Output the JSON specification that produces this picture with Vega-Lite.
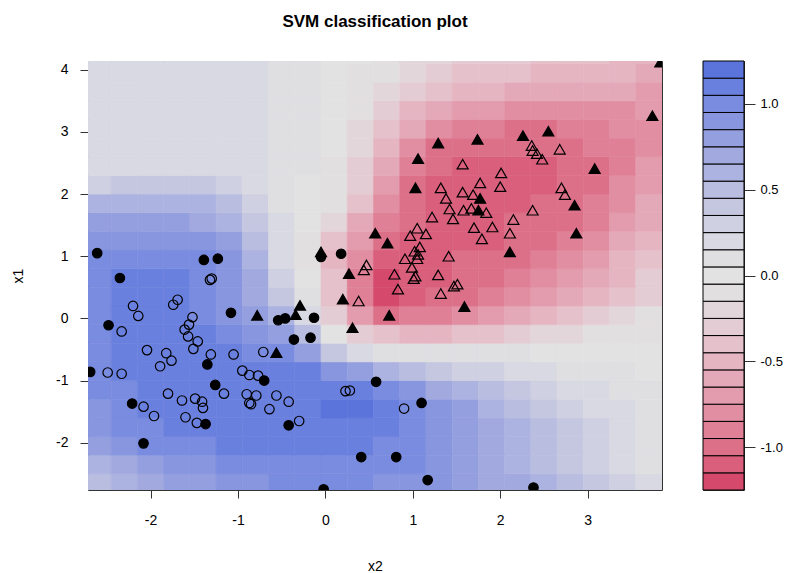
{
"$schema": "https://vega.github.io/schema/vega-lite/v6.json",
"background": "white",
"padding": {"left": 11, "top": 12, "right": 2, "bottom": 1},
"bounds": "flush",
"spacing": 41,
"config": {
 "font": "Liberation Sans Narrow, Liberation Sans, Arial, sans-serif",
 "view": {"stroke": "#333", "strokeWidth": 1},
 "axis": {"labelColor": "black", "titleColor": "black", "tickColor": "#333", "labelFontSize": 14, "titleFontSize": 14, "titleFontWeight": "normal", "grid": false, "domain": false}
},
"datasets": {
"grid": [
{"x2":-2.6,"x1":-2.65,"z":0.45},{"x2":-2.3,"x1":-2.65,"z":0.55},{"x2":-2,"x1":-2.65,"z":0.65},{"x2":-1.7,"x1":-2.65,"z":0.75},{"x2":-1.4,"x1":-2.65,"z":0.82},{"x2":-1.1,"x1":-2.65,"z":0.88},{"x2":-0.8,"x1":-2.65,"z":0.92},{"x2":-0.5,"x1":-2.65,"z":0.95},{"x2":-0.2,"x1":-2.65,"z":0.97},{"x2":0.1,"x1":-2.65,"z":0.97},{"x2":0.4,"x1":-2.65,"z":0.96},{"x2":0.7,"x1":-2.65,"z":0.94},{"x2":1,"x1":-2.65,"z":0.92},{"x2":1.3,"x1":-2.65,"z":0.88},{"x2":1.6,"x1":-2.65,"z":0.82},{"x2":1.9,"x1":-2.65,"z":0.74},{"x2":2.2,"x1":-2.65,"z":0.65},{"x2":2.5,"x1":-2.65,"z":0.55},{"x2":2.8,"x1":-2.65,"z":0.45},{"x2":3.1,"x1":-2.65,"z":0.35},{"x2":3.4,"x1":-2.65,"z":0.25},{"x2":3.7,"x1":-2.65,"z":0.15},
{"x2":-2.6,"x1":-2.35,"z":0.6},{"x2":-2.3,"x1":-2.35,"z":0.72},{"x2":-2,"x1":-2.35,"z":0.8},{"x2":-1.7,"x1":-2.35,"z":0.87},{"x2":-1.4,"x1":-2.35,"z":0.92},{"x2":-1.1,"x1":-2.35,"z":0.96},{"x2":-0.8,"x1":-2.35,"z":0.99},{"x2":-0.5,"x1":-2.35,"z":1.01},{"x2":-0.2,"x1":-2.35,"z":1.03},{"x2":0.1,"x1":-2.35,"z":1.03},{"x2":0.4,"x1":-2.35,"z":1.02},{"x2":0.7,"x1":-2.35,"z":1.0},{"x2":1,"x1":-2.35,"z":0.97},{"x2":1.3,"x1":-2.35,"z":0.92},{"x2":1.6,"x1":-2.35,"z":0.84},{"x2":1.9,"x1":-2.35,"z":0.74},{"x2":2.2,"x1":-2.35,"z":0.64},{"x2":2.5,"x1":-2.35,"z":0.53},{"x2":2.8,"x1":-2.35,"z":0.42},{"x2":3.1,"x1":-2.35,"z":0.32},{"x2":3.4,"x1":-2.35,"z":0.23},{"x2":3.7,"x1":-2.35,"z":0.14},
{"x2":-2.6,"x1":-2.05,"z":0.75},{"x2":-2.3,"x1":-2.05,"z":0.88},{"x2":-2,"x1":-2.05,"z":0.98},{"x2":-1.7,"x1":-2.05,"z":1.02},{"x2":-1.4,"x1":-2.05,"z":1.04},{"x2":-1.1,"x1":-2.05,"z":1.05},{"x2":-0.8,"x1":-2.05,"z":1.06},{"x2":-0.5,"x1":-2.05,"z":1.07},{"x2":-0.2,"x1":-2.05,"z":1.08},{"x2":0.1,"x1":-2.05,"z":1.08},{"x2":0.4,"x1":-2.05,"z":1.07},{"x2":0.7,"x1":-2.05,"z":1.04},{"x2":1,"x1":-2.05,"z":1.0},{"x2":1.3,"x1":-2.05,"z":0.93},{"x2":1.6,"x1":-2.05,"z":0.83},{"x2":1.9,"x1":-2.05,"z":0.72},{"x2":2.2,"x1":-2.05,"z":0.61},{"x2":2.5,"x1":-2.05,"z":0.5},{"x2":2.8,"x1":-2.05,"z":0.4},{"x2":3.1,"x1":-2.05,"z":0.3},{"x2":3.4,"x1":-2.05,"z":0.21},{"x2":3.7,"x1":-2.05,"z":0.13},
{"x2":-2.6,"x1":-1.75,"z":0.85},{"x2":-2.3,"x1":-1.75,"z":0.95},{"x2":-2,"x1":-1.75,"z":1.03},{"x2":-1.7,"x1":-1.75,"z":1.07},{"x2":-1.4,"x1":-1.75,"z":1.08},{"x2":-1.1,"x1":-1.75,"z":1.08},{"x2":-0.8,"x1":-1.75,"z":1.08},{"x2":-0.5,"x1":-1.75,"z":1.09},{"x2":-0.2,"x1":-1.75,"z":1.1},{"x2":0.1,"x1":-1.75,"z":1.12},{"x2":0.4,"x1":-1.75,"z":1.12},{"x2":0.7,"x1":-1.75,"z":1.08},{"x2":1,"x1":-1.75,"z":1.02},{"x2":1.3,"x1":-1.75,"z":0.92},{"x2":1.6,"x1":-1.75,"z":0.8},{"x2":1.9,"x1":-1.75,"z":0.68},{"x2":2.2,"x1":-1.75,"z":0.57},{"x2":2.5,"x1":-1.75,"z":0.46},{"x2":2.8,"x1":-1.75,"z":0.36},{"x2":3.1,"x1":-1.75,"z":0.27},{"x2":3.4,"x1":-1.75,"z":0.19},{"x2":3.7,"x1":-1.75,"z":0.12},
{"x2":-2.6,"x1":-1.45,"z":0.92},{"x2":-2.3,"x1":-1.45,"z":1.0},{"x2":-2,"x1":-1.45,"z":1.06},{"x2":-1.7,"x1":-1.45,"z":1.1},{"x2":-1.4,"x1":-1.45,"z":1.1},{"x2":-1.1,"x1":-1.45,"z":1.08},{"x2":-0.8,"x1":-1.45,"z":1.08},{"x2":-0.5,"x1":-1.45,"z":1.1},{"x2":-0.2,"x1":-1.45,"z":1.12},{"x2":0.1,"x1":-1.45,"z":1.15},{"x2":0.4,"x1":-1.45,"z":1.15},{"x2":0.7,"x1":-1.45,"z":1.08},{"x2":1,"x1":-1.45,"z":1.0},{"x2":1.3,"x1":-1.45,"z":0.88},{"x2":1.6,"x1":-1.45,"z":0.75},{"x2":1.9,"x1":-1.45,"z":0.63},{"x2":2.2,"x1":-1.45,"z":0.52},{"x2":2.5,"x1":-1.45,"z":0.42},{"x2":2.8,"x1":-1.45,"z":0.32},{"x2":3.1,"x1":-1.45,"z":0.24},{"x2":3.4,"x1":-1.45,"z":0.17},{"x2":3.7,"x1":-1.45,"z":0.11},
{"x2":-2.6,"x1":-1.15,"z":0.96},{"x2":-2.3,"x1":-1.15,"z":1.03},{"x2":-2,"x1":-1.15,"z":1.08},{"x2":-1.7,"x1":-1.15,"z":1.1},{"x2":-1.4,"x1":-1.15,"z":1.1},{"x2":-1.1,"x1":-1.15,"z":1.08},{"x2":-0.8,"x1":-1.15,"z":1.08},{"x2":-0.5,"x1":-1.15,"z":1.1},{"x2":-0.2,"x1":-1.15,"z":1.12},{"x2":0.1,"x1":-1.15,"z":1.12},{"x2":0.4,"x1":-1.15,"z":1.05},{"x2":0.7,"x1":-1.15,"z":0.95},{"x2":1,"x1":-1.15,"z":0.85},{"x2":1.3,"x1":-1.15,"z":0.72},{"x2":1.6,"x1":-1.15,"z":0.6},{"x2":1.9,"x1":-1.15,"z":0.48},{"x2":2.2,"x1":-1.15,"z":0.38},{"x2":2.5,"x1":-1.15,"z":0.3},{"x2":2.8,"x1":-1.15,"z":0.23},{"x2":3.1,"x1":-1.15,"z":0.17},{"x2":3.4,"x1":-1.15,"z":0.12},{"x2":3.7,"x1":-1.15,"z":0.08},
{"x2":-2.6,"x1":-0.85,"z":0.99},{"x2":-2.3,"x1":-0.85,"z":1.06},{"x2":-2,"x1":-0.85,"z":1.1},{"x2":-1.7,"x1":-0.85,"z":1.1},{"x2":-1.4,"x1":-0.85,"z":1.08},{"x2":-1.1,"x1":-0.85,"z":1.05},{"x2":-0.8,"x1":-0.85,"z":1.05},{"x2":-0.5,"x1":-0.85,"z":1.06},{"x2":-0.2,"x1":-0.85,"z":1.05},{"x2":0.1,"x1":-0.85,"z":0.9},{"x2":0.4,"x1":-0.85,"z":0.75},{"x2":0.7,"x1":-0.85,"z":0.62},{"x2":1,"x1":-0.85,"z":0.5},{"x2":1.3,"x1":-0.85,"z":0.4},{"x2":1.6,"x1":-0.85,"z":0.32},{"x2":1.9,"x1":-0.85,"z":0.25},{"x2":2.2,"x1":-0.85,"z":0.2},{"x2":2.5,"x1":-0.85,"z":0.16},{"x2":2.8,"x1":-0.85,"z":0.12},{"x2":3.1,"x1":-0.85,"z":0.09},{"x2":3.4,"x1":-0.85,"z":0.06},{"x2":3.7,"x1":-0.85,"z":0.04},
{"x2":-2.6,"x1":-0.55,"z":1.0},{"x2":-2.3,"x1":-0.55,"z":1.08},{"x2":-2,"x1":-0.55,"z":1.1},{"x2":-1.7,"x1":-0.55,"z":1.1},{"x2":-1.4,"x1":-0.55,"z":1.08},{"x2":-1.1,"x1":-0.55,"z":1.05},{"x2":-0.8,"x1":-0.55,"z":1.03},{"x2":-0.5,"x1":-0.55,"z":0.95},{"x2":-0.2,"x1":-0.55,"z":0.75},{"x2":0.1,"x1":-0.55,"z":0.35},{"x2":0.4,"x1":-0.55,"z":0.2},{"x2":0.7,"x1":-0.55,"z":0.12},{"x2":1,"x1":-0.55,"z":0.1},{"x2":1.3,"x1":-0.55,"z":0.08},{"x2":1.6,"x1":-0.55,"z":0.07},{"x2":1.9,"x1":-0.55,"z":0.06},{"x2":2.2,"x1":-0.55,"z":0.05},{"x2":2.5,"x1":-0.55,"z":0.04},{"x2":2.8,"x1":-0.55,"z":0.03},{"x2":3.1,"x1":-0.55,"z":0.02},{"x2":3.4,"x1":-0.55,"z":0.02},{"x2":3.7,"x1":-0.55,"z":0.02},
{"x2":-2.6,"x1":-0.25,"z":1.0},{"x2":-2.3,"x1":-0.25,"z":1.08},{"x2":-2,"x1":-0.25,"z":1.1},{"x2":-1.7,"x1":-0.25,"z":1.1},{"x2":-1.4,"x1":-0.25,"z":1.08},{"x2":-1.1,"x1":-0.25,"z":1.02},{"x2":-0.8,"x1":-0.25,"z":0.92},{"x2":-0.5,"x1":-0.25,"z":0.75},{"x2":-0.2,"x1":-0.25,"z":0.45},{"x2":0.1,"x1":-0.25,"z":0.0},{"x2":0.4,"x1":-0.25,"z":-0.3},{"x2":0.7,"x1":-0.25,"z":-0.45},{"x2":1,"x1":-0.25,"z":-0.5},{"x2":1.3,"x1":-0.25,"z":-0.48},{"x2":1.6,"x1":-0.25,"z":-0.42},{"x2":1.9,"x1":-0.25,"z":-0.36},{"x2":2.2,"x1":-0.25,"z":-0.3},{"x2":2.5,"x1":-0.25,"z":-0.24},{"x2":2.8,"x1":-0.25,"z":-0.19},{"x2":3.1,"x1":-0.25,"z":-0.14},{"x2":3.4,"x1":-0.25,"z":-0.1},{"x2":3.7,"x1":-0.25,"z":-0.06},
{"x2":-2.6,"x1":0.05,"z":1.0},{"x2":-2.3,"x1":0.05,"z":1.08},{"x2":-2,"x1":0.05,"z":1.1},{"x2":-1.7,"x1":0.05,"z":1.08},{"x2":-1.4,"x1":0.05,"z":1.02},{"x2":-1.1,"x1":0.05,"z":0.92},{"x2":-0.8,"x1":0.05,"z":0.78},{"x2":-0.5,"x1":0.05,"z":0.55},{"x2":-0.2,"x1":0.05,"z":0.2},{"x2":0.1,"x1":0.05,"z":-0.3},{"x2":0.4,"x1":0.05,"z":-0.75},{"x2":0.7,"x1":0.05,"z":-1.0},{"x2":1,"x1":0.05,"z":-0.95},{"x2":1.3,"x1":0.05,"z":-0.9},{"x2":1.6,"x1":0.05,"z":-0.82},{"x2":1.9,"x1":0.05,"z":-0.7},{"x2":2.2,"x1":0.05,"z":-0.58},{"x2":2.5,"x1":0.05,"z":-0.47},{"x2":2.8,"x1":0.05,"z":-0.37},{"x2":3.1,"x1":0.05,"z":-0.28},{"x2":3.4,"x1":0.05,"z":-0.2},{"x2":3.7,"x1":0.05,"z":-0.12},
{"x2":-2.6,"x1":0.35,"z":1.0},{"x2":-2.3,"x1":0.35,"z":1.08},{"x2":-2,"x1":0.35,"z":1.08},{"x2":-1.7,"x1":0.35,"z":1.05},{"x2":-1.4,"x1":0.35,"z":1.0},{"x2":-1.1,"x1":0.35,"z":0.88},{"x2":-0.8,"x1":0.35,"z":0.7},{"x2":-0.5,"x1":0.35,"z":0.42},{"x2":-0.2,"x1":0.35,"z":0.08},{"x2":0.1,"x1":0.35,"z":-0.4},{"x2":0.4,"x1":0.35,"z":-0.95},{"x2":0.7,"x1":0.35,"z":-1.18},{"x2":1,"x1":0.35,"z":-1.15},{"x2":1.3,"x1":0.35,"z":-1.05},{"x2":1.6,"x1":0.35,"z":-1.0},{"x2":1.9,"x1":0.35,"z":-0.92},{"x2":2.2,"x1":0.35,"z":-0.82},{"x2":2.5,"x1":0.35,"z":-0.7},{"x2":2.8,"x1":0.35,"z":-0.58},{"x2":3.1,"x1":0.35,"z":-0.46},{"x2":3.4,"x1":0.35,"z":-0.36},{"x2":3.7,"x1":0.35,"z":-0.26},
{"x2":-2.6,"x1":0.65,"z":1.0},{"x2":-2.3,"x1":0.65,"z":1.05},{"x2":-2,"x1":0.65,"z":1.05},{"x2":-1.7,"x1":0.65,"z":1.05},{"x2":-1.4,"x1":0.65,"z":1.0},{"x2":-1.1,"x1":0.65,"z":0.88},{"x2":-0.8,"x1":0.65,"z":0.65},{"x2":-0.5,"x1":0.65,"z":0.32},{"x2":-0.2,"x1":0.65,"z":-0.02},{"x2":0.1,"x1":0.65,"z":-0.45},{"x2":0.4,"x1":0.65,"z":-0.9},{"x2":0.7,"x1":0.65,"z":-1.18},{"x2":1,"x1":0.65,"z":-1.15},{"x2":1.3,"x1":0.65,"z":-1.08},{"x2":1.6,"x1":0.65,"z":-1.05},{"x2":1.9,"x1":0.65,"z":-1.0},{"x2":2.2,"x1":0.65,"z":-0.95},{"x2":2.5,"x1":0.65,"z":-0.85},{"x2":2.8,"x1":0.65,"z":-0.73},{"x2":3.1,"x1":0.65,"z":-0.6},{"x2":3.4,"x1":0.65,"z":-0.47},{"x2":3.7,"x1":0.65,"z":-0.35},
{"x2":-2.6,"x1":0.95,"z":0.95},{"x2":-2.3,"x1":0.95,"z":1.0},{"x2":-2,"x1":0.95,"z":1.02},{"x2":-1.7,"x1":0.95,"z":1.02},{"x2":-1.4,"x1":0.95,"z":0.98},{"x2":-1.1,"x1":0.95,"z":0.88},{"x2":-0.8,"x1":0.95,"z":0.6},{"x2":-0.5,"x1":0.95,"z":0.2},{"x2":-0.2,"x1":0.95,"z":-0.15},{"x2":0.1,"x1":0.95,"z":-0.5},{"x2":0.4,"x1":0.95,"z":-0.85},{"x2":0.7,"x1":0.95,"z":-1.1},{"x2":1,"x1":0.95,"z":-1.12},{"x2":1.3,"x1":0.95,"z":-1.08},{"x2":1.6,"x1":0.95,"z":-1.05},{"x2":1.9,"x1":0.95,"z":-1.05},{"x2":2.2,"x1":0.95,"z":-1.0},{"x2":2.5,"x1":0.95,"z":-0.92},{"x2":2.8,"x1":0.95,"z":-0.82},{"x2":3.1,"x1":0.95,"z":-0.68},{"x2":3.4,"x1":0.95,"z":-0.54},{"x2":3.7,"x1":0.95,"z":-0.42},
{"x2":-2.6,"x1":1.25,"z":0.85},{"x2":-2.3,"x1":1.25,"z":0.9},{"x2":-2,"x1":1.25,"z":0.92},{"x2":-1.7,"x1":1.25,"z":0.92},{"x2":-1.4,"x1":1.25,"z":0.88},{"x2":-1.1,"x1":1.25,"z":0.75},{"x2":-0.8,"x1":1.25,"z":0.5},{"x2":-0.5,"x1":1.25,"z":0.2},{"x2":-0.2,"x1":1.25,"z":-0.08},{"x2":0.1,"x1":1.25,"z":-0.4},{"x2":0.4,"x1":1.25,"z":-0.75},{"x2":0.7,"x1":1.25,"z":-1.02},{"x2":1,"x1":1.25,"z":-1.08},{"x2":1.3,"x1":1.25,"z":-1.08},{"x2":1.6,"x1":1.25,"z":-1.06},{"x2":1.9,"x1":1.25,"z":-1.06},{"x2":2.2,"x1":1.25,"z":-1.03},{"x2":2.5,"x1":1.25,"z":-0.98},{"x2":2.8,"x1":1.25,"z":-0.9},{"x2":3.1,"x1":1.25,"z":-0.77},{"x2":3.4,"x1":1.25,"z":-0.62},{"x2":3.7,"x1":1.25,"z":-0.5},
{"x2":-2.6,"x1":1.55,"z":0.75},{"x2":-2.3,"x1":1.55,"z":0.78},{"x2":-2,"x1":1.55,"z":0.8},{"x2":-1.7,"x1":1.55,"z":0.78},{"x2":-1.4,"x1":1.55,"z":0.72},{"x2":-1.1,"x1":1.55,"z":0.6},{"x2":-0.8,"x1":1.55,"z":0.4},{"x2":-0.5,"x1":1.55,"z":0.15},{"x2":-0.2,"x1":1.55,"z":-0.02},{"x2":0.1,"x1":1.55,"z":-0.25},{"x2":0.4,"x1":1.55,"z":-0.6},{"x2":0.7,"x1":1.55,"z":-0.9},{"x2":1,"x1":1.55,"z":-1.05},{"x2":1.3,"x1":1.55,"z":-1.07},{"x2":1.6,"x1":1.55,"z":-1.07},{"x2":1.9,"x1":1.55,"z":-1.06},{"x2":2.2,"x1":1.55,"z":-1.05},{"x2":2.5,"x1":1.55,"z":-1.03},{"x2":2.8,"x1":1.55,"z":-1.0},{"x2":3.1,"x1":1.55,"z":-0.88},{"x2":3.4,"x1":1.55,"z":-0.72},{"x2":3.7,"x1":1.55,"z":-0.6},
{"x2":-2.6,"x1":1.85,"z":0.55},{"x2":-2.3,"x1":1.85,"z":0.6},{"x2":-2,"x1":1.85,"z":0.62},{"x2":-1.7,"x1":1.85,"z":0.6},{"x2":-1.4,"x1":1.85,"z":0.55},{"x2":-1.1,"x1":1.85,"z":0.45},{"x2":-0.8,"x1":1.85,"z":0.3},{"x2":-0.5,"x1":1.85,"z":0.12},{"x2":-0.2,"x1":1.85,"z":0.0},{"x2":0.1,"x1":1.85,"z":-0.15},{"x2":0.4,"x1":1.85,"z":-0.45},{"x2":0.7,"x1":1.85,"z":-0.8},{"x2":1,"x1":1.85,"z":-1.02},{"x2":1.3,"x1":1.85,"z":-1.06},{"x2":1.6,"x1":1.85,"z":-1.08},{"x2":1.9,"x1":1.85,"z":-1.07},{"x2":2.2,"x1":1.85,"z":-1.06},{"x2":2.5,"x1":1.85,"z":-1.05},{"x2":2.8,"x1":1.85,"z":-1.02},{"x2":3.1,"x1":1.85,"z":-0.95},{"x2":3.4,"x1":1.85,"z":-0.78},{"x2":3.7,"x1":1.85,"z":-0.64},
{"x2":-2.6,"x1":2.15,"z":0.33},{"x2":-2.3,"x1":2.15,"z":0.38},{"x2":-2,"x1":2.15,"z":0.4},{"x2":-1.7,"x1":2.15,"z":0.38},{"x2":-1.4,"x1":2.15,"z":0.35},{"x2":-1.1,"x1":2.15,"z":0.3},{"x2":-0.8,"x1":2.15,"z":0.22},{"x2":-0.5,"x1":2.15,"z":0.12},{"x2":-0.2,"x1":2.15,"z":0.04},{"x2":0.1,"x1":2.15,"z":-0.1},{"x2":0.4,"x1":2.15,"z":-0.35},{"x2":0.7,"x1":2.15,"z":-0.7},{"x2":1,"x1":2.15,"z":-1.0},{"x2":1.3,"x1":2.15,"z":-1.06},{"x2":1.6,"x1":2.15,"z":-1.08},{"x2":1.9,"x1":2.15,"z":-1.08},{"x2":2.2,"x1":2.15,"z":-1.07},{"x2":2.5,"x1":2.15,"z":-1.06},{"x2":2.8,"x1":2.15,"z":-1.05},{"x2":3.1,"x1":2.15,"z":-0.98},{"x2":3.4,"x1":2.15,"z":-0.82},{"x2":3.7,"x1":2.15,"z":-0.7},
{"x2":-2.6,"x1":2.45,"z":0.2},{"x2":-2.3,"x1":2.45,"z":0.2},{"x2":-2,"x1":2.45,"z":0.22},{"x2":-1.7,"x1":2.45,"z":0.2},{"x2":-1.4,"x1":2.45,"z":0.2},{"x2":-1.1,"x1":2.45,"z":0.19},{"x2":-0.8,"x1":2.45,"z":0.17},{"x2":-0.5,"x1":2.45,"z":0.13},{"x2":-0.2,"x1":2.45,"z":0.06},{"x2":0.1,"x1":2.45,"z":-0.07},{"x2":0.4,"x1":2.45,"z":-0.28},{"x2":0.7,"x1":2.45,"z":-0.6},{"x2":1,"x1":2.45,"z":-0.92},{"x2":1.3,"x1":2.45,"z":-1.04},{"x2":1.6,"x1":2.45,"z":-1.06},{"x2":1.9,"x1":2.45,"z":-1.07},{"x2":2.2,"x1":2.45,"z":-1.07},{"x2":2.5,"x1":2.45,"z":-1.06},{"x2":2.8,"x1":2.45,"z":-1.05},{"x2":3.1,"x1":2.45,"z":-1.0},{"x2":3.4,"x1":2.45,"z":-0.86},{"x2":3.7,"x1":2.45,"z":-0.74},
{"x2":-2.6,"x1":2.75,"z":0.18},{"x2":-2.3,"x1":2.75,"z":0.18},{"x2":-2,"x1":2.75,"z":0.18},{"x2":-1.7,"x1":2.75,"z":0.18},{"x2":-1.4,"x1":2.75,"z":0.18},{"x2":-1.1,"x1":2.75,"z":0.18},{"x2":-0.8,"x1":2.75,"z":0.17},{"x2":-0.5,"x1":2.75,"z":0.14},{"x2":-0.2,"x1":2.75,"z":0.08},{"x2":0.1,"x1":2.75,"z":-0.04},{"x2":0.4,"x1":2.75,"z":-0.22},{"x2":0.7,"x1":2.75,"z":-0.5},{"x2":1,"x1":2.75,"z":-0.8},{"x2":1.3,"x1":2.75,"z":-1.0},{"x2":1.6,"x1":2.75,"z":-1.04},{"x2":1.9,"x1":2.75,"z":-1.05},{"x2":2.2,"x1":2.75,"z":-1.05},{"x2":2.5,"x1":2.75,"z":-1.04},{"x2":2.8,"x1":2.75,"z":-1.02},{"x2":3.1,"x1":2.75,"z":-0.95},{"x2":3.4,"x1":2.75,"z":-0.86},{"x2":3.7,"x1":2.75,"z":-0.78},
{"x2":-2.6,"x1":3.05,"z":0.18},{"x2":-2.3,"x1":3.05,"z":0.18},{"x2":-2,"x1":3.05,"z":0.18},{"x2":-1.7,"x1":3.05,"z":0.18},{"x2":-1.4,"x1":3.05,"z":0.18},{"x2":-1.1,"x1":3.05,"z":0.18},{"x2":-0.8,"x1":3.05,"z":0.17},{"x2":-0.5,"x1":3.05,"z":0.14},{"x2":-0.2,"x1":3.05,"z":0.08},{"x2":0.1,"x1":3.05,"z":-0.03},{"x2":0.4,"x1":3.05,"z":-0.18},{"x2":0.7,"x1":3.05,"z":-0.4},{"x2":1,"x1":3.05,"z":-0.62},{"x2":1.3,"x1":3.05,"z":-0.8},{"x2":1.6,"x1":3.05,"z":-0.9},{"x2":1.9,"x1":3.05,"z":-0.93},{"x2":2.2,"x1":3.05,"z":-0.96},{"x2":2.5,"x1":3.05,"z":-0.98},{"x2":2.8,"x1":3.05,"z":-0.95},{"x2":3.1,"x1":3.05,"z":-0.9},{"x2":3.4,"x1":3.05,"z":-0.84},{"x2":3.7,"x1":3.05,"z":-0.8},
{"x2":-2.6,"x1":3.35,"z":0.18},{"x2":-2.3,"x1":3.35,"z":0.18},{"x2":-2,"x1":3.35,"z":0.18},{"x2":-1.7,"x1":3.35,"z":0.18},{"x2":-1.4,"x1":3.35,"z":0.18},{"x2":-1.1,"x1":3.35,"z":0.18},{"x2":-0.8,"x1":3.35,"z":0.17},{"x2":-0.5,"x1":3.35,"z":0.14},{"x2":-0.2,"x1":3.35,"z":0.08},{"x2":0.1,"x1":3.35,"z":-0.02},{"x2":0.4,"x1":3.35,"z":-0.14},{"x2":0.7,"x1":3.35,"z":-0.3},{"x2":1,"x1":3.35,"z":-0.46},{"x2":1.3,"x1":3.35,"z":-0.6},{"x2":1.6,"x1":3.35,"z":-0.68},{"x2":1.9,"x1":3.35,"z":-0.73},{"x2":2.2,"x1":3.35,"z":-0.76},{"x2":2.5,"x1":3.35,"z":-0.78},{"x2":2.8,"x1":3.35,"z":-0.79},{"x2":3.1,"x1":3.35,"z":-0.78},{"x2":3.4,"x1":3.35,"z":-0.76},{"x2":3.7,"x1":3.35,"z":-0.75},
{"x2":-2.6,"x1":3.65,"z":0.18},{"x2":-2.3,"x1":3.65,"z":0.18},{"x2":-2,"x1":3.65,"z":0.18},{"x2":-1.7,"x1":3.65,"z":0.18},{"x2":-1.4,"x1":3.65,"z":0.18},{"x2":-1.1,"x1":3.65,"z":0.18},{"x2":-0.8,"x1":3.65,"z":0.17},{"x2":-0.5,"x1":3.65,"z":0.14},{"x2":-0.2,"x1":3.65,"z":0.08},{"x2":0.1,"x1":3.65,"z":-0.01},{"x2":0.4,"x1":3.65,"z":-0.1},{"x2":0.7,"x1":3.65,"z":-0.22},{"x2":1,"x1":3.65,"z":-0.34},{"x2":1.3,"x1":3.65,"z":-0.44},{"x2":1.6,"x1":3.65,"z":-0.5},{"x2":1.9,"x1":3.65,"z":-0.55},{"x2":2.2,"x1":3.65,"z":-0.58},{"x2":2.5,"x1":3.65,"z":-0.6},{"x2":2.8,"x1":3.65,"z":-0.62},{"x2":3.1,"x1":3.65,"z":-0.64},{"x2":3.4,"x1":3.65,"z":-0.65},{"x2":3.7,"x1":3.65,"z":-0.66},
{"x2":-2.6,"x1":3.95,"z":0.18},{"x2":-2.3,"x1":3.95,"z":0.18},{"x2":-2,"x1":3.95,"z":0.18},{"x2":-1.7,"x1":3.95,"z":0.18},{"x2":-1.4,"x1":3.95,"z":0.18},{"x2":-1.1,"x1":3.95,"z":0.18},{"x2":-0.8,"x1":3.95,"z":0.17},{"x2":-0.5,"x1":3.95,"z":0.14},{"x2":-0.2,"x1":3.95,"z":0.08},{"x2":0.1,"x1":3.95,"z":0.0},{"x2":0.4,"x1":3.95,"z":-0.07},{"x2":0.7,"x1":3.95,"z":-0.15},{"x2":1,"x1":3.95,"z":-0.24},{"x2":1.3,"x1":3.95,"z":-0.31},{"x2":1.6,"x1":3.95,"z":-0.36},{"x2":1.9,"x1":3.95,"z":-0.4},{"x2":2.2,"x1":3.95,"z":-0.43},{"x2":2.5,"x1":3.95,"z":-0.46},{"x2":2.8,"x1":3.95,"z":-0.49},{"x2":3.1,"x1":3.95,"z":-0.52},{"x2":3.4,"x1":3.95,"z":-0.55},{"x2":3.7,"x1":3.95,"z":-0.58},
{"x2":-2.6,"x1":4.25,"z":0.18},{"x2":-2.3,"x1":4.25,"z":0.18},{"x2":-2,"x1":4.25,"z":0.18},{"x2":-1.7,"x1":4.25,"z":0.18},{"x2":-1.4,"x1":4.25,"z":0.18},{"x2":-1.1,"x1":4.25,"z":0.18},{"x2":-0.8,"x1":4.25,"z":0.17},{"x2":-0.5,"x1":4.25,"z":0.14},{"x2":-0.2,"x1":4.25,"z":0.08},{"x2":0.1,"x1":4.25,"z":0.01},{"x2":0.4,"x1":4.25,"z":-0.05},{"x2":0.7,"x1":4.25,"z":-0.1},{"x2":1,"x1":4.25,"z":-0.17},{"x2":1.3,"x1":4.25,"z":-0.23},{"x2":1.6,"x1":4.25,"z":-0.28},{"x2":1.9,"x1":4.25,"z":-0.32},{"x2":2.2,"x1":4.25,"z":-0.35},{"x2":2.5,"x1":4.25,"z":-0.38},{"x2":2.8,"x1":4.25,"z":-0.42},{"x2":3.1,"x1":4.25,"z":-0.45},{"x2":3.4,"x1":4.25,"z":-0.5},{"x2":3.7,"x1":4.25,"z":-0.55}
],
"pts": [
{"x2":-1.32,"x1":0.62,"class":"1","sv":"no"},{"x2":-1.30,"x1":0.64,"class":"1","sv":"no"},{"x2":-2.20,"x1":0.20,"class":"1","sv":"no"},{"x2":-2.14,"x1":0.04,"class":"1","sv":"no"},{"x2":-1.74,"x1":0.22,"class":"1","sv":"no"},{"x2":-1.69,"x1":0.30,"class":"1","sv":"no"},{"x2":-2.33,"x1":-0.21,"class":"1","sv":"no"},{"x2":-1.52,"x1":0.02,"class":"1","sv":"no"},{"x2":-1.56,"x1":-0.10,"class":"1","sv":"no"},{"x2":-1.61,"x1":-0.18,"class":"1","sv":"no"},{"x2":-1.57,"x1":-0.29,"class":"1","sv":"no"},{"x2":-1.46,"x1":-0.37,"class":"1","sv":"no"},{"x2":-1.51,"x1":-0.49,"class":"1","sv":"no"},{"x2":-2.04,"x1":-0.51,"class":"1","sv":"no"},{"x2":-1.82,"x1":-0.56,"class":"1","sv":"no"},{"x2":-1.76,"x1":-0.68,"class":"1","sv":"no"},{"x2":-1.89,"x1":-0.77,"class":"1","sv":"no"},{"x2":-1.31,"x1":-0.58,"class":"1","sv":"no"},{"x2":-1.05,"x1":-0.58,"class":"1","sv":"no"},{"x2":-0.71,"x1":-0.54,"class":"1","sv":"no"},{"x2":-2.49,"x1":-0.87,"class":"1","sv":"no"},{"x2":-2.33,"x1":-0.89,"class":"1","sv":"no"},{"x2":-0.95,"x1":-0.84,"class":"1","sv":"no"},{"x2":-0.87,"x1":-0.91,"class":"1","sv":"no"},{"x2":-0.77,"x1":-0.92,"class":"1","sv":"no"},{"x2":-1.80,"x1":-1.21,"class":"1","sv":"no"},{"x2":-1.64,"x1":-1.32,"class":"1","sv":"no"},{"x2":-1.49,"x1":-1.29,"class":"1","sv":"no"},{"x2":-1.41,"x1":-1.34,"class":"1","sv":"no"},{"x2":-1.40,"x1":-1.44,"class":"1","sv":"no"},{"x2":-1.16,"x1":-1.21,"class":"1","sv":"no"},{"x2":-0.90,"x1":-1.22,"class":"1","sv":"no"},{"x2":-0.79,"x1":-1.24,"class":"1","sv":"no"},{"x2":-0.87,"x1":-1.36,"class":"1","sv":"no"},{"x2":-0.85,"x1":-1.38,"class":"1","sv":"no"},{"x2":-0.56,"x1":-1.24,"class":"1","sv":"no"},{"x2":-0.42,"x1":-1.34,"class":"1","sv":"no"},{"x2":-0.64,"x1":-1.46,"class":"1","sv":"no"},{"x2":-2.08,"x1":-1.42,"class":"1","sv":"no"},{"x2":-1.96,"x1":-1.57,"class":"1","sv":"no"},{"x2":-1.60,"x1":-1.59,"class":"1","sv":"no"},{"x2":-1.47,"x1":-1.68,"class":"1","sv":"no"},{"x2":-0.30,"x1":-1.65,"class":"1","sv":"no"},{"x2":0.23,"x1":-1.17,"class":"1","sv":"no"},{"x2":0.28,"x1":-1.16,"class":"1","sv":"no"},{"x2":0.90,"x1":-1.45,"class":"1","sv":"no"},
{"x2":-2.61,"x1":1.05,"class":"1","sv":"yes"},{"x2":-1.39,"x1":0.94,"class":"1","sv":"yes"},{"x2":-1.23,"x1":0.96,"class":"1","sv":"yes"},{"x2":-2.35,"x1":0.65,"class":"1","sv":"yes"},{"x2":-1.08,"x1":0.09,"class":"1","sv":"yes"},{"x2":-2.48,"x1":-0.11,"class":"1","sv":"yes"},{"x2":-1.35,"x1":-0.74,"class":"1","sv":"yes"},{"x2":-0.54,"x1":-0.03,"class":"1","sv":"yes"},{"x2":-0.46,"x1":0.00,"class":"1","sv":"yes"},{"x2":-0.13,"x1":0.01,"class":"1","sv":"yes"},{"x2":-0.36,"x1":-0.34,"class":"1","sv":"yes"},{"x2":-0.17,"x1":-0.31,"class":"1","sv":"yes"},{"x2":-0.05,"x1":0.99,"class":"1","sv":"yes"},{"x2":0.18,"x1":1.04,"class":"1","sv":"yes"},{"x2":-2.69,"x1":-0.86,"class":"1","sv":"yes"},{"x2":-0.70,"x1":-1.00,"class":"1","sv":"yes"},{"x2":-1.26,"x1":-1.07,"class":"1","sv":"yes"},{"x2":-2.21,"x1":-1.37,"class":"1","sv":"yes"},{"x2":-1.37,"x1":-1.70,"class":"1","sv":"yes"},{"x2":-0.42,"x1":-1.72,"class":"1","sv":"yes"},{"x2":-2.08,"x1":-2.01,"class":"1","sv":"yes"},{"x2":0.41,"x1":-2.23,"class":"1","sv":"yes"},{"x2":-0.02,"x1":-2.75,"class":"1","sv":"yes"},{"x2":0.58,"x1":-1.02,"class":"1","sv":"yes"},{"x2":1.10,"x1":-1.36,"class":"1","sv":"yes"},{"x2":0.81,"x1":-2.23,"class":"1","sv":"yes"},{"x2":1.17,"x1":-2.60,"class":"1","sv":"yes"},{"x2":2.38,"x1":-2.72,"class":"1","sv":"yes"},
{"x2":-0.78,"x1":0.05,"class":"2","sv":"yes"},{"x2":-0.56,"x1":-0.55,"class":"2","sv":"yes"},{"x2":-0.34,"x1":0.06,"class":"2","sv":"yes"},{"x2":-0.29,"x1":0.21,"class":"2","sv":"yes"},{"x2":-0.05,"x1":1.07,"class":"2","sv":"yes"},{"x2":0.27,"x1":0.72,"class":"2","sv":"yes"},{"x2":0.20,"x1":0.31,"class":"2","sv":"yes"},{"x2":0.31,"x1":-0.15,"class":"2","sv":"yes"},{"x2":0.57,"x1":1.37,"class":"2","sv":"yes"},{"x2":0.71,"x1":1.21,"class":"2","sv":"yes"},{"x2":0.73,"x1":0.05,"class":"2","sv":"yes"},{"x2":1.59,"x1":0.19,"class":"2","sv":"yes"},{"x2":2.11,"x1":1.07,"class":"2","sv":"yes"},{"x2":2.87,"x1":1.37,"class":"2","sv":"yes"},{"x2":1.29,"x1":2.82,"class":"2","sv":"yes"},{"x2":1.74,"x1":2.88,"class":"2","sv":"yes"},{"x2":2.26,"x1":2.94,"class":"2","sv":"yes"},{"x2":2.55,"x1":3.01,"class":"2","sv":"yes"},{"x2":1.06,"x1":2.57,"class":"2","sv":"yes"},{"x2":1.03,"x1":2.10,"class":"2","sv":"yes"},{"x2":1.77,"x1":1.93,"class":"2","sv":"yes"},{"x2":1.75,"x1":1.74,"class":"2","sv":"yes"},{"x2":3.74,"x1":3.26,"class":"2","sv":"yes"},{"x2":3.08,"x1":2.41,"class":"2","sv":"yes"},{"x2":2.85,"x1":1.82,"class":"2","sv":"yes"},{"x2":3.83,"x1":4.12,"class":"2","sv":"yes"},
{"x2":0.47,"x1":0.86,"class":"2","sv":"no"},{"x2":0.44,"x1":0.78,"class":"2","sv":"no"},{"x2":0.38,"x1":0.28,"class":"2","sv":"no"},{"x2":0.83,"x1":0.47,"class":"2","sv":"no"},{"x2":0.79,"x1":0.71,"class":"2","sv":"no"},{"x2":1.32,"x1":0.40,"class":"2","sv":"no"},{"x2":1.29,"x1":0.70,"class":"2","sv":"no"},{"x2":1.47,"x1":0.52,"class":"2","sv":"no"},{"x2":1.51,"x1":0.55,"class":"2","sv":"no"},{"x2":1.05,"x1":1.45,"class":"2","sv":"no"},{"x2":1.15,"x1":1.36,"class":"2","sv":"no"},{"x2":0.97,"x1":1.33,"class":"2","sv":"no"},{"x2":1.70,"x1":1.46,"class":"2","sv":"no"},{"x2":1.91,"x1":1.47,"class":"2","sv":"no"},{"x2":2.11,"x1":1.37,"class":"2","sv":"no"},{"x2":1.79,"x1":1.28,"class":"2","sv":"no"},{"x2":1.08,"x1":1.15,"class":"2","sv":"no"},{"x2":1.02,"x1":1.08,"class":"2","sv":"no"},{"x2":1.06,"x1":1.03,"class":"2","sv":"no"},{"x2":1.05,"x1":0.96,"class":"2","sv":"no"},{"x2":0.91,"x1":0.96,"class":"2","sv":"no"},{"x2":1.41,"x1":1.00,"class":"2","sv":"no"},{"x2":0.99,"x1":0.82,"class":"2","sv":"no"},{"x2":1.03,"x1":0.68,"class":"2","sv":"no"},{"x2":1.01,"x1":0.64,"class":"2","sv":"no"},{"x2":2.36,"x1":2.78,"class":"2","sv":"no"},{"x2":2.37,"x1":2.70,"class":"2","sv":"no"},{"x2":2.42,"x1":2.65,"class":"2","sv":"no"},{"x2":2.48,"x1":2.56,"class":"2","sv":"no"},{"x2":2.68,"x1":2.72,"class":"2","sv":"no"},{"x2":1.57,"x1":2.48,"class":"2","sv":"no"},{"x2":2.01,"x1":2.34,"class":"2","sv":"no"},{"x2":2.00,"x1":2.12,"class":"2","sv":"no"},{"x2":1.77,"x1":2.18,"class":"2","sv":"no"},{"x2":1.32,"x1":2.10,"class":"2","sv":"no"},{"x2":1.38,"x1":1.93,"class":"2","sv":"no"},{"x2":1.57,"x1":2.03,"class":"2","sv":"no"},{"x2":1.69,"x1":1.99,"class":"2","sv":"no"},{"x2":1.42,"x1":1.76,"class":"2","sv":"no"},{"x2":1.58,"x1":1.74,"class":"2","sv":"no"},{"x2":1.67,"x1":1.77,"class":"2","sv":"no"},{"x2":1.84,"x1":1.70,"class":"2","sv":"no"},{"x2":1.22,"x1":1.63,"class":"2","sv":"no"},{"x2":1.46,"x1":1.60,"class":"2","sv":"no"},{"x2":2.37,"x1":1.74,"class":"2","sv":"no"},{"x2":2.15,"x1":1.59,"class":"2","sv":"no"},{"x2":2.70,"x1":2.10,"class":"2","sv":"no"},{"x2":2.74,"x1":1.99,"class":"2","sv":"no"}
],
"lev": [
{"level":-1.2},{"level":-1.1},{"level":-1.0},{"level":-0.9},{"level":-0.8},{"level":-0.7},{"level":-0.6},{"level":-0.5},{"level":-0.4},{"level":-0.3},{"level":-0.2},{"level":-0.1},{"level":0.0},{"level":0.1},{"level":0.2},{"level":0.3},{"level":0.4},{"level":0.5},{"level":0.6},{"level":0.7},{"level":0.8},{"level":0.9},{"level":1.0},{"level":1.1},{"level":1.2}
]
},
"hconcat": [
{
 "title": {"text": "SVM classification plot", "fontSize": 17, "fontWeight": "bold", "offset": 30, "anchor": "middle", "color": "black"},
 "width": 574, "height": 429,
 "layer": [
  {
   "data": {"name": "grid"},
   "transform": [
    {"bin": {"extent": [-2.75, 3.85], "step": 0.3, "nice": false}, "field": "x2", "as": ["gx0", "gx1"]},
    {"bin": {"extent": [-2.8, 4.4], "step": 0.3, "nice": false}, "field": "x1", "as": ["gy0", "gy1"]}
   ],
   "mark": {"type": "rect", "clip": true, "strokeWidth": 0.6},
   "encoding": {
    "x": {"field": "gx0", "type": "quantitative", "scale": {"domain": [-2.715, 3.85], "nice": false, "zero": false},
      "axis": {"title": "x2", "values": [-2, -1, 0, 1, 2, 3], "format": "d", "labelExpr": "replace(datum.label, '\u2212', '-')", "tickSize": 8, "labelPadding": 15, "titlePadding": 32}},
    "x2": {"field": "gx1"},
    "y": {"field": "gy0", "type": "quantitative", "scale": {"domain": [-2.76, 4.14], "nice": false, "zero": false},
      "axis": {"title": "x1", "values": [-2, -1, 0, 1, 2, 3, 4], "format": "d", "labelExpr": "replace(datum.label, '\u2212', '-')", "tickSize": 8, "labelPadding": 12, "titlePadding": 30, "labelAngle": 0}},
    "y2": {"field": "gy1"},
    "color": {"field": "z", "type": "quantitative", "legend": null,
      "scale": {"type": "threshold",
        "domain": [-1.15,-1.05,-0.95,-0.85,-0.75,-0.65,-0.55,-0.45,-0.35,-0.25,-0.15,-0.05,0.05,0.15,0.25,0.35,0.45,0.55,0.65,0.75,0.85,0.95,1.05,1.15],
        "range": ["#d5496d","#d95f7c","#dc7089","#df8096","#e18ea2","#e39cad","#e4a9b8","#e5b5c2","#e5c1cb","#e4ccd4","#e3d6db","#e2dfe0","#e2e2e2","#dfdfe2","#d8d9e2","#cfd0e1","#c5c7e1","#b9bde0","#adb3e0","#a1a9df","#949fdf","#8796df","#7a8cdf","#6a80de","#5a74dc"]}},
    "stroke": {"field": "z", "type": "quantitative", "legend": null,
      "scale": {"type": "threshold",
        "domain": [-1.15,-1.05,-0.95,-0.85,-0.75,-0.65,-0.55,-0.45,-0.35,-0.25,-0.15,-0.05,0.05,0.15,0.25,0.35,0.45,0.55,0.65,0.75,0.85,0.95,1.05,1.15],
        "range": ["#d5496d","#d95f7c","#dc7089","#df8096","#e18ea2","#e39cad","#e4a9b8","#e5b5c2","#e5c1cb","#e4ccd4","#e3d6db","#e2dfe0","#e2e2e2","#dfdfe2","#d8d9e2","#cfd0e1","#c5c7e1","#b9bde0","#adb3e0","#a1a9df","#949fdf","#8796df","#7a8cdf","#6a80de","#5a74dc"]}}
   }
  },
  {
   "data": {"name": "pts"},
   "mark": {"type": "point", "filled": true, "fill": "black", "stroke": "black", "strokeWidth": 1.2, "opacity": 1, "clip": true},
   "encoding": {
    "x": {"field": "x2", "type": "quantitative"},
    "y": {"field": "x1", "type": "quantitative"},
    "shape": {"field": "class", "type": "nominal", "legend": null, "scale": {"domain": ["1", "2"], "range": ["circle", "triangle-up"]}},
    "size": {"field": "class", "type": "nominal", "legend": null, "scale": {"domain": ["1", "2"], "range": [90, 121]}},
    "fillOpacity": {"field": "sv", "type": "nominal", "legend": null, "scale": {"domain": ["no", "yes"], "range": [0, 1]}}
   }
  }
 ],
 "resolve": {"scale": {"stroke": "independent"}}
},
{
 "width": 41, "height": 429,
 "data": {"name": "lev"},
 "transform": [{"bin": {"extent": [-1.25, 1.25], "step": 0.1, "nice": false}, "field": "level", "as": ["lo", "hi"]}],
 "mark": {"type": "rect", "stroke": "black", "strokeWidth": 1},
 "encoding": {
  "x": {"datum": 0, "type": "quantitative", "scale": {"domain": [0, 1], "nice": false}, "axis": null},
  "x2": {"datum": 1},
  "y": {"field": "lo", "type": "quantitative", "scale": {"domain": [-1.25, 1.25], "nice": false, "zero": false},
    "axis": {"orient": "right", "title": null, "values": [-1, -0.5, 0, 0.5, 1], "format": ".1f", "labelExpr": "replace(datum.label, '\u2212', '-')", "tickSize": 11, "labelPadding": 5, "labelFontSize": 13}},
  "y2": {"field": "hi"},
  "color": {"field": "level", "type": "quantitative", "legend": null,
    "scale": {"type": "threshold",
      "domain": [-1.15,-1.05,-0.95,-0.85,-0.75,-0.65,-0.55,-0.45,-0.35,-0.25,-0.15,-0.05,0.05,0.15,0.25,0.35,0.45,0.55,0.65,0.75,0.85,0.95,1.05,1.15],
      "range": ["#d5496d","#d95f7c","#dc7089","#df8096","#e18ea2","#e39cad","#e4a9b8","#e5b5c2","#e5c1cb","#e4ccd4","#e3d6db","#e2dfe0","#e2e2e2","#dfdfe2","#d8d9e2","#cfd0e1","#c5c7e1","#b9bde0","#adb3e0","#a1a9df","#949fdf","#8796df","#7a8cdf","#6a80de","#5a74dc"]}}
 }
}
],
"resolve": {"scale": {"color": "independent"}}
}
